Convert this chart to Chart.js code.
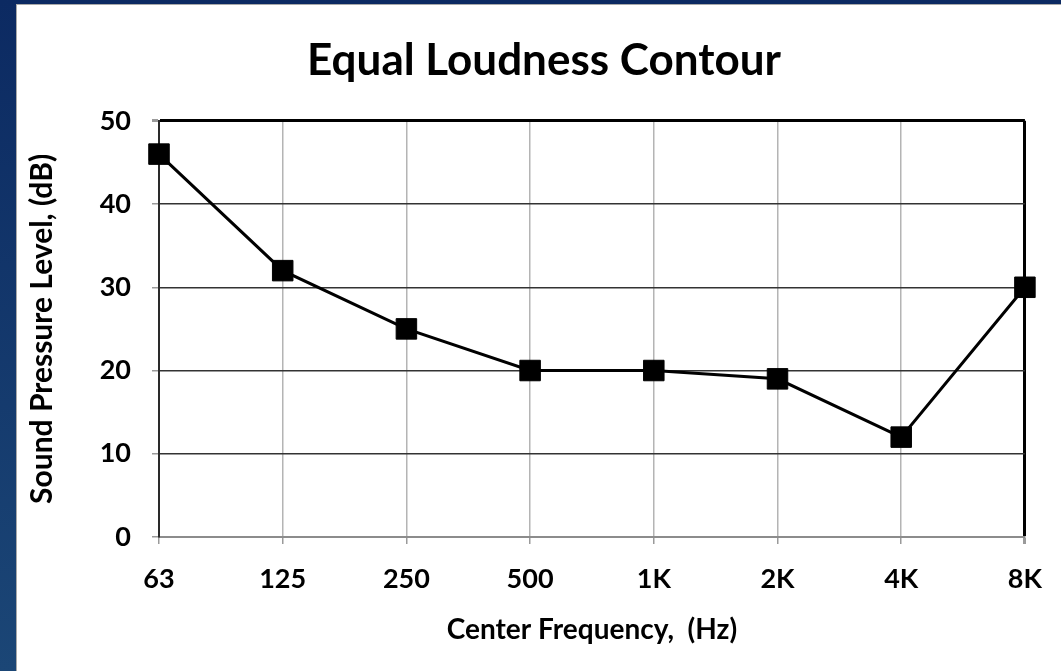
<!DOCTYPE html>
<html>
<head>
<meta charset="utf-8">
<script src="https://cdn.jsdelivr.net/npm/chart.js@4.4.1/dist/chart.umd.min.js"></script>
<style>
  html, body { margin: 0; padding: 0; }
  body {
    width: 1061px; height: 671px; overflow: hidden; position: relative;
    background: linear-gradient(#0c2a62, #1b4676);
  }
  #panel {
    position: absolute; left: 16px; top: 4px; width: 1100px; height: 700px;
    background: #fff; border-left: 1px solid #a9a9a9; border-top: 1px solid #a9a9a9;
  }
  #wrap { position: absolute; left: 0; top: 0; width: 1044px; height: 666px; }
</style>
</head>
<body>
<div id="panel"><div id="wrap"><canvas id="loudnessChart"></canvas></div></div>
<script>
const frequencies = ["63", "125", "250", "500", "1K", "2K", "4K", "8K"];
const levels = [46, 32, 25, 20, 20, 19, 12, 30];
const yTicks = [0, 10, 20, 30, 40, 50];

const FONT = "Lato, 'Open Sans', sans-serif";

const canvas = document.getElementById("loudnessChart");

new Chart(canvas, {
    type: "line",
    data: {
        labels: frequencies,
        datasets: [
            {
                label: "Equal Loudness",
                data: levels,
                borderColor: "#000",
                borderWidth: 3,
                pointStyle: "rect",
                pointRadius: 14.5,
                pointBorderWidth: 1,
                pointBackgroundColor: "#000",
                pointBorderColor: "#000",
                tension: 0,
                clip: false,
            },
        ],
    },
    options: {
        responsive: true,
        maintainAspectRatio: false,
        animation: false,
        // left padding shifts the title centre to match the original
        layout: { padding: { left: 46, right: 36, top: 0, bottom: 0 } },
        plugins: {
            legend: { display: false },
            tooltip: { enabled: false },
            title: {
                display: true,
                text: "Equal Loudness Contour",
                color: "#000",
                font: { family: FONT, size: 44, weight: "bold" },
                padding: { top: 29, bottom: 34 },
            },
        },
        scales: {
            x: {
                type: "category",
                offset: false,
                afterFit: (scale) => { scale.height = 134; },
                grid: {
                    color: (ctx) => (ctx.index === frequencies.length - 1 ? "#000" : "#b4b4b4"),
                    lineWidth: (ctx) => (ctx.index === frequencies.length - 1 ? 3 : 1.5),
                    tickColor: "#9a9a9a",
                    tickLength: 7,
                    offset: false,
                },
                border: { color: "#8c8c8c", width: 2 },
                ticks: {
                    color: "#000",
                    font: { family: FONT, size: 27, weight: "bold" },
                    padding: 19,
                    maxRotation: 0,
                },
                title: {
                    display: true,
                    text: "Center Frequency,  (Hz)",
                    color: "#000",
                    font: { family: FONT, size: 28, weight: "bold" },
                    padding: { top: 0, bottom: 24 },
                },
            },
            y: {
                min: 0,
                max: 50,
                afterFit: (scale) => { scale.width = 96; },
                afterBuildTicks: (scale) => { scale.ticks = yTicks.map((v) => ({ value: v })); },
                grid: {
                    color: (ctx) => {
                        if (ctx.tick && ctx.tick.value === 50) return "#000";
                        if (ctx.tick && ctx.tick.value === 0) return "#8c8c8c";
                        return "#333";
                    },
                    lineWidth: (ctx) => (ctx.tick && ctx.tick.value === 50 ? 3 : 1.5),
                    tickColor: "#9a9a9a",
                    tickLength: 7,
                },
                border: { color: "#2a2a2a", width: 2 },
                ticks: {
                    color: "#000",
                    font: { family: FONT, size: 27, weight: "bold" },
                    padding: 21,
                },
                title: {
                    display: true,
                    text: "Sound Pressure Level, (dB)",
                    color: "#000",
                    font: { family: FONT, size: 30, weight: "bold" },
                    padding: { top: -39, bottom: 0 },
                },
            },
        },
    },
});
</script>
</body>
</html>
